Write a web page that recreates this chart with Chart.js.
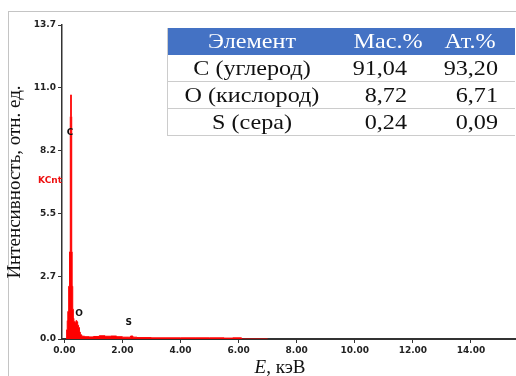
<!DOCTYPE html>
<html>
<head>
<meta charset="utf-8">
<script src="https://cdn.jsdelivr.net/npm/chart.js@4/dist/chart.umd.min.js"></script>
<style>
  html, body { margin: 0; padding: 0; background: #fff; overflow: hidden; }
  #wrap { position: relative; width: 516px; height: 376px; }
  #frame { position: absolute; left: 8px; top: 11px; width: 600px; height: 400px; border: 1px solid #c4c4c4; }
  #spec { position: absolute; left: 0; top: 0; }
</style>
</head>
<body>
<div id="wrap">
  <div id="frame"></div>
  <canvas id="spec" width="516" height="376"></canvas>
</div>
<script>
// EDS spectrum, energy in keV, intensity in KCnt
const energy = [0.06, 0.08, 0.10, 0.12, 0.15, 0.18, 0.205, 0.22, 0.24, 0.255, 0.27, 0.29, 0.31, 0.33,
  0.37, 0.40, 0.43, 0.46, 0.49, 0.52, 0.55, 0.60, 0.70, 0.85, 1.00, 1.20, 1.40, 1.60, 1.80,
  2.00, 2.20, 2.28, 2.36, 2.50, 3.00, 3.50, 4.00, 4.50, 5.00, 5.50, 5.80, 6.10, 7.00];
const counts = [0.00, 0.40, 0.80, 1.20, 2.30, 3.80, 9.70, 10.65, 9.70, 3.80, 2.30, 1.30, 0.90, 0.75,
  0.70, 0.80, 0.75, 0.60, 0.50, 0.30, 0.18, 0.12, 0.10, 0.09, 0.11, 0.14, 0.12, 0.13, 0.10,
  0.08, 0.08, 0.13, 0.08, 0.06, 0.05, 0.05, 0.05, 0.05, 0.05, 0.04, 0.05, 0.00, 0.00];

const xTicks = [0, 2, 4, 6, 8, 10, 12, 14];
const yTicks = [0, 2.74, 5.48, 8.22, 10.96, 13.7];
const yTickLabels = ['0.0', '2.7', '5.5', '8.2', '11.0', '13.7'];

// element lines marked on the spectrum
const peakNames = ['C', 'O', 'S'];
const peakE = [0.20, 0.51, 2.22];
const peakY = [9.0, 1.1, 0.7];

// composition table
const tableHead = ['Элемент', 'Мас.%', 'Ат.%'];
const elements = ['C (углерод)', 'O (кислород)', 'S (сера)'];
const massPct = ['91,04', '8,72', '0,24'];
const atomPct = ['93,20', '6,71', '0,09'];

const tickFont = { family: 'DejaVu Sans', size: 9, weight: 'bold' };
const serif = '"Liberation Serif", "DejaVu Serif", serif';

// the table text in the source is a bit wide, so stretch it horizontally
function wideText(ctx, t, x, y, align) {
  ctx.save();
  ctx.translate(x, y);
  ctx.scale(1.15, 1);
  ctx.textAlign = align;
  ctx.fillText(t, 0, 0);
  ctx.restore();
}

function drawTable(ctx) {
  const left = 167, right = 515, top = 28, headH = 27, rowH = 27;
  const headC = [252, 388, 470];
  const nameC = 252;
  const numR = [407, 498];
  ctx.save();
  const bottom = top + headH + rowH * elements.length;
  ctx.fillStyle = '#fff';
  ctx.fillRect(left, top, right - left, bottom - top);
  ctx.fillStyle = '#4472c4';
  ctx.fillRect(left, top, right - left, headH);
  ctx.strokeStyle = '#cccccc';
  ctx.lineWidth = 1;
  ctx.beginPath();
  ctx.moveTo(left + 0.5, top); ctx.lineTo(left + 0.5, bottom);
  for (let i = 1; i <= elements.length; i++) {
    const y = top + headH + rowH * i - 0.5;
    ctx.moveTo(left, y); ctx.lineTo(right, y);
  }
  ctx.stroke();
  ctx.font = '21px ' + serif;
  ctx.textBaseline = 'middle';
  ctx.fillStyle = '#fff';
  tableHead.forEach((t, i) => wideText(ctx, t, headC[i], top + headH / 2 + 1, 'center'));
  ctx.fillStyle = '#111';
  elements.forEach((t, i) => {
    const y = top + headH + rowH * i + rowH / 2 + 1;
    wideText(ctx, t, nameC, y, 'center');
    wideText(ctx, massPct[i], numR[0], y, 'right');
    wideText(ctx, atomPct[i], numR[1], y, 'right');
  });
  ctx.restore();
}

const labelsPlugin = {
  id: 'labels',
  afterDraw(chart) {
    const ctx = chart.ctx;
    const xs = chart.scales.x, ys = chart.scales.y;
    ctx.save();
    ctx.font = 'bold 9px "DejaVu Sans"';
    ctx.fillStyle = '#111';
    ctx.textAlign = 'center';
    ctx.textBaseline = 'middle';
    peakNames.forEach((n, i) => {
      ctx.fillText(n, xs.getPixelForValue(peakE[i]), ys.getPixelForValue(peakY[i]));
    });
    // unit label on the axis
    ctx.fillStyle = '#ee1111';
    ctx.fillText('KCnt', 50, 181);
    // x title: italic E, regular rest
    ctx.fillStyle = '#111';
    ctx.textBaseline = 'alphabetic';
    ctx.textAlign = 'left';
    const a = 'E', b = ', кэВ';
    ctx.font = 'italic 19px ' + serif;
    const wa = ctx.measureText(a).width;
    ctx.font = '19px ' + serif;
    const wb = ctx.measureText(b).width;
    let x0 = 280 - (wa + wb) / 2;
    ctx.font = 'italic 19px ' + serif;
    ctx.fillText(a, x0, 373);
    ctx.font = '19px ' + serif;
    ctx.fillText(b, x0 + wa, 373);
    ctx.restore();
    drawTable(ctx);
  }
};

new Chart(document.getElementById('spec'), {
  type: 'line',
  data: {
    datasets: [{
      data: energy.map((e, i) => ({ x: e, y: counts[i] })),
      borderColor: '#ff0000',
      backgroundColor: '#ff0000',
      borderWidth: 1,
      fill: 'origin',
      stepped: true,
      pointRadius: 0,
    }]
  },
  options: {
    responsive: false,
    animation: false,
    layout: { padding: { top: 25, left: 0, right: 0, bottom: 0 } },
    plugins: { legend: { display: false }, tooltip: { enabled: false } },
    scales: {
      x: {
        type: 'linear',
        min: -0.08,
        max: 15.55,
        afterBuildTicks: (s) => { s.ticks = xTicks.map(v => ({ value: v })); },
        afterFit: (s) => { s.height = 37; },
        ticks: { font: tickFont, color: '#222', padding: 2, callback: (v) => v.toFixed(2) },
        grid: { drawOnChartArea: false, tickLength: 4, color: '#333', lineWidth: 1 },
        border: { color: '#333', width: 2 },
      },
      y: {
        min: 0,
        max: 13.7,
        afterBuildTicks: (s) => { s.ticks = yTicks.map(v => ({ value: v })); },
        afterFit: (s) => { s.width = 62; },
        ticks: { font: tickFont, color: '#222', padding: 2,
          callback: (v, i) => yTickLabels[i] },
        grid: { drawOnChartArea: false, tickLength: 4, color: '#333', lineWidth: 1 },
        border: { color: '#333', width: 1.5 },
        title: { display: true, text: 'Интенсивность, отн. ед.', color: '#111',
          font: { family: 'Liberation Serif', size: 19 }, padding: { top: 4, bottom: 0 } },
      }
    }
  },
  plugins: [labelsPlugin]
});
</script>
</body>
</html>
